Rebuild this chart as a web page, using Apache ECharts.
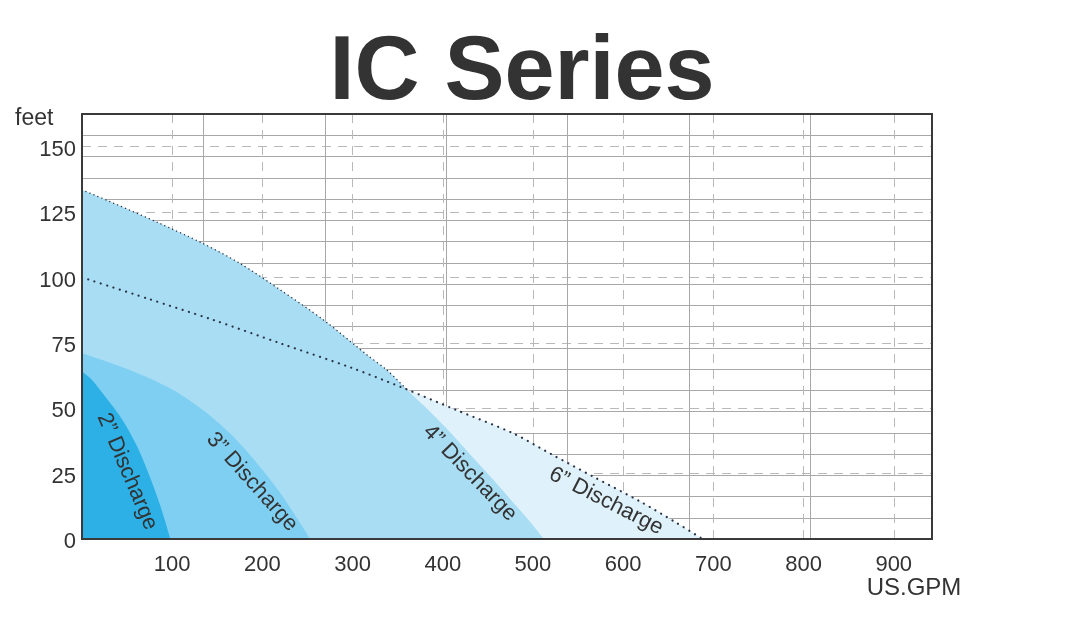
<!DOCTYPE html>
<html><head><meta charset="utf-8">
<script src="https://cdn.jsdelivr.net/npm/echarts@6/dist/echarts.min.js"></script>
<style>html,body{margin:0;padding:0;background:#fff}#c{width:1065px;height:629px}</style>
</head><body><div id="c"></div>
<script>
// ---- data (US.GPM, feet) ----
const gpm2 = [0, 10, 20, 42, 61, 75, 87, 98];
const ft2  = [64, 61.2, 57, 47, 35.5, 24, 12.5, 0];
const gpm3 = [0, 53, 101, 134, 164, 194, 220, 242, 253];
const ft3  = [71, 64.6, 57, 49.3, 40.4, 29, 17.5, 6, 0];
const gpm4 = [0, 35, 86, 134, 175, 220, 268, 316, 338, 360, 382, 404, 430, 455, 480, 497, 512];
const ft4  = [133.5, 128.4, 120.7, 113, 105.4, 95.2, 83.7, 70.4, 64.6, 57.2, 50, 42.3, 32.5, 23, 13.2, 6.5, 0];
const gpm6 = [0, 72, 146, 220, 300, 360, 415, 478, 520, 567, 619, 660, 688];
const ft6  = [100, 92, 83.7, 74.8, 65.3, 57.2, 49.3, 40.4, 32.5, 23.8, 14.3, 6, 0];
const crossGpm = 360; // where 4" and 6" curves meet
const seriesNames = ['2” Discharge', '3” Discharge', '4” Discharge', '6” Discharge'];
const titleText = 'IC Series';
const yName = 'feet';
const xName = 'US.GPM';

const pair = (xs, ys) => xs.map((x, i) => [x, ys[i]]);
const FONT = "'Liberation Sans', Arial, Helvetica, sans-serif";
const XMAX = 942.4, YMAX = 162.5;

const chart = echarts.init(document.getElementById('c'), null, {renderer: 'canvas'});

function area(name, data, color) {
  return {
    name, type: 'line', data, xAxisIndex: 0, yAxisIndex: 0,
    smooth: 0.3, showSymbol: false, symbol: 'none',
    lineStyle: {width: 0, opacity: 0},
    areaStyle: {color, opacity: 1}, silent: true
  };
}
function dots(name, data, width, dash) {
  return {
    name, type: 'line', data, xAxisIndex: 0, yAxisIndex: 0,
    smooth: 0.3, showSymbol: false, symbol: 'none',
    lineStyle: {color: '#2a3446', width, type: dash, cap: 'round'}, z: 4, silent: true
  };
}

const option = {
  animation: false,
  grid: {left: 82, top: 114, width: 850, height: 425, show: true,
         borderColor: '#3a3a3a', borderWidth: 2, backgroundColor: 'transparent', z: 10},
  xAxis: [
    {type: 'value', min: 0, max: XMAX, interval: 100,
     axisLine: {show: false}, axisTick: {show: false},
     axisLabel: {showMinLabel: false, showMaxLabel: false, color: '#333', fontSize: 22, fontFamily: FONT, margin: 15},
     splitLine: {show: true, lineStyle: {color: '#b9b9b9', type: [9, 7], width: 1}}},
    {type: 'value', min: 0, max: 7, interval: 1, position: 'top',
     axisLine: {show: false}, axisTick: {show: false}, axisLabel: {show: false},
     splitLine: {show: true, lineStyle: {color: '#a8a8a8', width: 1}}}
  ],
  yAxis: [
    {type: 'value', min: 0, max: YMAX, interval: 25,
     axisLine: {show: false}, axisTick: {show: false},
     axisLabel: {showMaxLabel: false, color: '#333', fontSize: 22, fontFamily: FONT, margin: 6,
                 verticalAlign: 'top', lineHeight: 6},
     splitLine: {show: true, lineStyle: {color: '#b9b9b9', type: [9, 7], width: 1}}},
    {type: 'value', min: 0, max: 20, interval: 1, position: 'right',
     axisLine: {show: false}, axisTick: {show: false}, axisLabel: {show: false},
     splitLine: {show: true, lineStyle: {color: '#a8a8a8', width: 1}}}
  ],
  series: [
    area(seriesNames[3], pair(gpm6, ft6), '#dff1fa'),
    area(seriesNames[2], pair(gpm4, ft4), '#a9ddf3'),
    area(seriesNames[1], pair(gpm3, ft3), '#7fcff3'),
    area(seriesNames[0], pair(gpm2, ft2), '#2cb0e5'),
    dots('6in line', pair(gpm6, ft6), 2.2, [0.1, 6.5]),
    dots('4in line', pair(gpm4, ft4).filter(p => p[0] <= crossGpm), 1.4, [0.1, 4.2])
  ]
};
chart.setOption(option);

const labelDefs = [
  {text: seriesNames[0], at: [50, 25.8], angle: 67},
  {text: seriesNames[1], at: [188.5, 21.8], angle: 48},
  {text: seriesNames[2], at: [430, 25.2], angle: 46},
  {text: seriesNames[3], at: [581, 14.5], angle: 27}
];
const graphics = labelDefs.map(d => {
  const p = chart.convertToPixel({xAxisIndex: 0, yAxisIndex: 0}, d.at);
  return {type: 'text', x: p[0], y: p[1], rotation: -d.angle * Math.PI / 180, z: 20,
          style: {text: d.text, fill: '#333', font: '22px ' + FONT, align: 'center', verticalAlign: 'middle'}};
});
graphics.push(
  {type: 'text', x: 522, y: 74, z: 20,
   style: {text: titleText, fill: '#333', font: 'bold 90px ' + FONT, align: 'center', verticalAlign: 'middle'}},
  {type: 'text', x: 15, y: 119, z: 20,
   style: {text: yName, fill: '#333', font: '23px ' + FONT, align: 'left', verticalAlign: 'middle'}},
  {type: 'text', x: 914, y: 588, z: 20,
   style: {text: xName, fill: '#333', font: '24px ' + FONT, align: 'center', verticalAlign: 'middle'}}
);
chart.setOption({graphic: graphics});
</script></body></html>
